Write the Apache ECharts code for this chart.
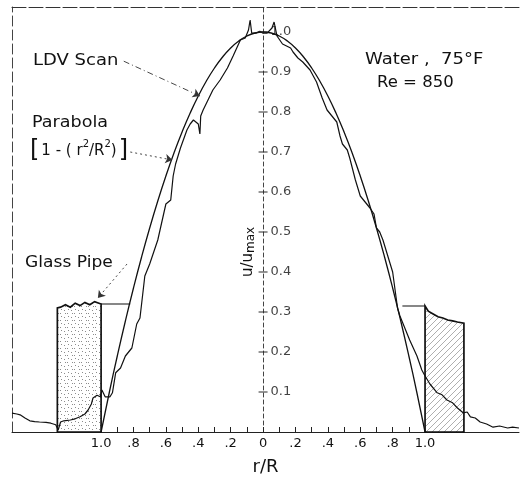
<!DOCTYPE html>
<html><head><meta charset="utf-8">
<script src="https://cdn.jsdelivr.net/npm/echarts@6/dist/echarts.min.js"></script>
<style>html,body{margin:0;padding:0;background:#fff}#c{width:520px;height:481px}</style>
</head><body><div id="c"></div>
<script>
// ---- data ----
const xTickValues = [-1.0,-0.9,-0.8,-0.7,-0.6,-0.5,-0.4,-0.3,-0.2,-0.1,0,0.1,0.2,0.3,0.4,0.5,0.6,0.7,0.8,0.9,1.0];
const xLabelValues = [-1.0,-0.8,-0.6,-0.4,-0.2,0,0.2,0.4,0.6,0.8,1.0];
const yTickValues = [0.1,0.2,0.3,0.4,0.5,0.6,0.7,0.8,0.9,1.0];

const parabolaR = [-1.0,-0.95,-0.9,-0.85,-0.8,-0.75,-0.7,-0.65,-0.6,-0.55,-0.5,-0.45,-0.4,-0.35,-0.3,-0.25,-0.2,-0.15,-0.1,-0.05,0,0.05,0.1,0.15,0.2,0.25,0.3,0.35,0.4,0.45,0.5,0.55,0.6,0.65,0.7,0.75,0.8,0.85,0.9,0.95,1.0];
const parabolaU = [0,0.0975,0.19,0.2775,0.36,0.4375,0.51,0.5775,0.64,0.6975,0.75,0.7975,0.84,0.8775,0.91,0.9375,0.96,0.9775,0.99,0.9975,1.0,0.9975,0.99,0.9775,0.96,0.9375,0.91,0.8775,0.84,0.7975,0.75,0.6975,0.64,0.5775,0.51,0.4375,0.36,0.2775,0.19,0.0975,0];

const ldvR = [-1.55,-1.52,-1.50,-1.47,-1.44,-1.41,-1.38,-1.34,-1.31,-1.28,-1.265,-1.25,-1.23,-1.19,-1.16,-1.13,-1.10,-1.08,-1.06,-1.05,-1.025,-1.005,-0.995,-0.975,-0.945,-0.93,-0.91,-0.88,-0.85,-0.81,-0.78,-0.76,-0.73,-0.70,-0.65,-0.60,-0.57,-0.555,-0.54,-0.51,-0.47,-0.45,-0.43,-0.40,-0.39,-0.385,-0.37,-0.34,-0.31,-0.265,-0.22,-0.185,-0.14,-0.11,-0.09,-0.08,-0.07,-0.045,-0.02,0.0,0.025,0.055,0.068,0.086,0.12,0.17,0.185,0.215,0.245,0.29,0.33,0.365,0.395,0.425,0.455,0.475,0.49,0.52,0.535,0.57,0.60,0.62,0.66,0.685,0.70,0.72,0.74,0.77,0.785,0.80,0.83,0.845,0.865,0.905,0.95,0.98,1.0,1.03,1.075,1.105,1.135,1.17,1.20,1.235,1.26,1.28,1.31,1.34,1.38,1.42,1.46,1.51,1.54,1.58];
const ldvU = [0.047,0.045,0.043,0.035,0.028,0.026,0.025,0.024,0.022,0.018,0.005,0.025,0.028,0.03,0.033,0.038,0.045,0.055,0.07,0.085,0.092,0.088,0.105,0.088,0.088,0.098,0.148,0.16,0.19,0.21,0.27,0.285,0.39,0.42,0.48,0.57,0.58,0.64,0.67,0.71,0.755,0.77,0.78,0.77,0.745,0.79,0.805,0.83,0.855,0.88,0.91,0.94,0.98,0.985,1.005,1.03,0.997,0.997,1.002,0.997,0.997,1.01,1.025,0.99,0.97,0.96,0.95,0.935,0.925,0.905,0.875,0.835,0.805,0.79,0.775,0.74,0.72,0.705,0.685,0.63,0.59,0.58,0.56,0.545,0.51,0.50,0.48,0.44,0.42,0.40,0.31,0.29,0.27,0.23,0.19,0.155,0.14,0.12,0.098,0.093,0.08,0.073,0.06,0.048,0.05,0.038,0.035,0.025,0.02,0.012,0.015,0.01,0.012,0.01];

const leftPipeR = [-1.27,-1.25,-1.22,-1.19,-1.16,-1.13,-1.10,-1.07,-1.04,-1.0];
const leftPipeU = [0.31,0.312,0.318,0.312,0.322,0.316,0.324,0.318,0.326,0.32];
const rightPipeR = [1.0,1.02,1.05,1.08,1.11,1.14,1.17,1.20,1.24];
const rightPipeU = [0.315,0.302,0.295,0.288,0.285,0.28,0.278,0.275,0.272];
const leftLedgeR = [-1.0,-0.82];
const leftLedgeU = [0.32,0.32];
const rightLedgeR = [0.86,1.0];
const rightLedgeU = [0.315,0.315];

// ---- helpers ----
const zip = (a,b) => a.map((v,i)=>[v,b[i]]);
const FONT = 'DejaVu Sans';
function stipple(){
  const c=document.createElement('canvas'); c.width=7; c.height=7;
  const g=c.getContext('2d'); g.fillStyle='#fff'; g.fillRect(0,0,7,7);
  g.fillStyle='#8c8c8c'; g.fillRect(1,2,1,1); g.fillRect(4,5,1,1); g.fillRect(5,1,1,1); g.fillRect(2,5,1,1);
  return c;
}
function hatch(){
  const c=document.createElement('canvas'); c.width=6; c.height=6;
  const g=c.getContext('2d'); g.fillStyle='#fff'; g.fillRect(0,0,6,6);
  g.strokeStyle='#9a9a9a'; g.lineWidth=0.8;
  g.beginPath(); g.moveTo(0,6); g.lineTo(6,0); g.moveTo(-1,1); g.lineTo(1,-1); g.moveTo(5,7); g.lineTo(7,5); g.stroke();
  return c;
}
function pipeSeries(rArr,uArr,pat){
  return {
    type:'custom', silent:true, z:1, data:[[rArr[0],0]],
    renderItem(params, api){
      const pts=[api.coord([rArr[0],0])];
      for(let i=0;i<rArr.length;i++) pts.push(api.coord([rArr[i],uArr[i]]));
      pts.push(api.coord([rArr[rArr.length-1],0]));
      return {type:'polygon', shape:{points:pts},
        style:{fill:{image:pat,repeat:'repeat'}, stroke:'#111', lineWidth:1.7}};
    }
  };
}
function fmtX(v){
  const a=Math.abs(v);
  if(a<1e-9) return '0';
  if(Math.abs(a-1)<1e-9) return '1.0';
  return a.toFixed(1).replace(/^0/,'');
}

const chart = echarts.init(document.getElementById('c'), null, {renderer:'canvas'});
const gridBox = {left:12, right:1, top:7, bottom:49};
chart.setOption({
  animation:false,
  backgroundColor:'#fff',
  textStyle:{fontFamily:FONT, color:'#111'},
  grid:[Object.assign({}, gridBox), Object.assign({}, gridBox)],
  xAxis:[{
    gridIndex:0, type:'value', min:-1.55, max:1.58, position:'bottom',
    axisLine:{onZero:false, lineStyle:{color:'#222', width:1}},
    axisTick:{inside:true, length:5, customValues:xTickValues, lineStyle:{color:'#222'}},
    axisLabel:{customValues:xLabelValues, formatter:fmtX, margin:5, fontSize:13, color:'#111', fontFamily:FONT},
    splitLine:{show:false},
    name:'r/R', nameLocation:'middle', nameGap:26,
    nameTextStyle:{fontSize:18, color:'#111', fontFamily:FONT}
  },{
    gridIndex:1, type:'value', min:-1.55, max:1.58, position:'top',
    axisLine:{show:true, onZero:false, lineStyle:{color:'#333', width:1, type:[14,3]}},
    axisTick:{show:false}, axisLabel:{show:false}, splitLine:{show:false}
  }],
  yAxis:[{
    gridIndex:0, type:'value', min:0, max:1.0625, position:'left',
    axisLine:{show:true, onZero:true, lineStyle:{color:'#444', width:1, type:[4,3]}},
    axisTick:{show:false}, axisLabel:{show:false}, splitLine:{show:false}
  },{
    gridIndex:1, type:'value', min:0, max:1.0625, position:'left',
    axisLine:{show:true, onZero:false, lineStyle:{color:'#444', width:1, type:[10,4]}},
    axisTick:{show:false}, axisLabel:{show:false}, splitLine:{show:false}
  }],
  graphic:[
    {type:'text', x:33, y:61, scaleX:1.2, style:{text:'LDV Scan', font:'15px "DejaVu Sans"', fill:'#111', textVerticalAlign:'middle'}},
    {type:'text', x:32, y:123, scaleX:1.17, style:{text:'Parabola', font:'15px "DejaVu Sans"', fill:'#111', textVerticalAlign:'middle'}},
    {type:'text', x:28, y:151, style:{
      text:'{b|[}{t|1 - ( r}{s|2}{t|/R}{s|2}{t|)}{b|]}', textVerticalAlign:'middle',
      rich:{b:{fontSize:24, fontFamily:FONT, fill:'#111', padding:[0,2,0,2]}, t:{fontSize:15, fontFamily:FONT, fill:'#111'}, s:{fontSize:10, fontFamily:FONT, fill:'#111', verticalAlign:'top', padding:[0,0,10,0]}}}},
    {type:'text', x:25, y:263, scaleX:1.14, style:{text:'Glass Pipe', font:'15px "DejaVu Sans"', fill:'#111', textVerticalAlign:'middle'}},
    {type:'text', x:365, y:60, scaleX:1.2, style:{text:'Water ,  75°F', font:'15px "DejaVu Sans"', fill:'#111', textVerticalAlign:'middle'}},
    {type:'text', x:377, y:83, scaleX:1.1, style:{text:'Re = 850', font:'15px "DejaVu Sans"', fill:'#111', textVerticalAlign:'middle'}},
    {type:'text', x:248, y:252, rotation:Math.PI/2, style:{
      text:'{t|u/u}{s|max}', align:'center', verticalAlign:'middle',
      rich:{t:{fontSize:15, fontFamily:FONT, fill:'#111'}, s:{fontSize:12, fontFamily:FONT, fill:'#111', verticalAlign:'bottom', padding:[6,0,0,0]}}}}
  ],
  series:[
    pipeSeries(leftPipeR, leftPipeU, stipple()),
    pipeSeries(rightPipeR, rightPipeU, hatch()),
    {type:'line', data:zip(leftLedgeR,leftLedgeU), symbol:'none', silent:true, z:3, lineStyle:{color:'#111', width:1.2}},
    {type:'line', data:zip(rightLedgeR,rightLedgeU), symbol:'none', silent:true, z:3, lineStyle:{color:'#111', width:1.2}},
    {type:'line', name:'Parabola', data:zip(parabolaR,parabolaU), smooth:true, symbol:'none', silent:true, z:4,
      lineStyle:{color:'#111', width:1.3},
      markLine:{silent:true, symbol:['none','arrow'], symbolSize:7, label:{show:false},
        data:[
          [{coord:[-0.86,0.927], lineStyle:{type:[6,3,1,3], color:'#333', width:0.9}}, {coord:[-0.39,0.84]}],
          [{coord:[-0.82,0.70], lineStyle:{type:[2,3], color:'#333', width:0.9}}, {coord:[-0.56,0.68]}],
          [{coord:[-0.84,0.42], lineStyle:{type:[2,3], color:'#333', width:0.9}}, {coord:[-1.02,0.335]}]
        ]}},
    {type:'line', name:'LDV Scan', data:zip(ldvR,ldvU), symbol:'none', silent:true, z:5,
      lineStyle:{color:'#111', width:1.2}},
    {type:'scatter', data:yTickValues.map(v=>[0,v]), symbol:'rect', symbolSize:[9,1.2], silent:true, z:6,
      itemStyle:{color:'#222'},
      label:{show:true, position:'right', distance:3, formatter:p=>p.value[1].toFixed(1),
        fontSize:13, fontFamily:FONT, color:'#111'}}
  ]
});
</script>
</body></html>
